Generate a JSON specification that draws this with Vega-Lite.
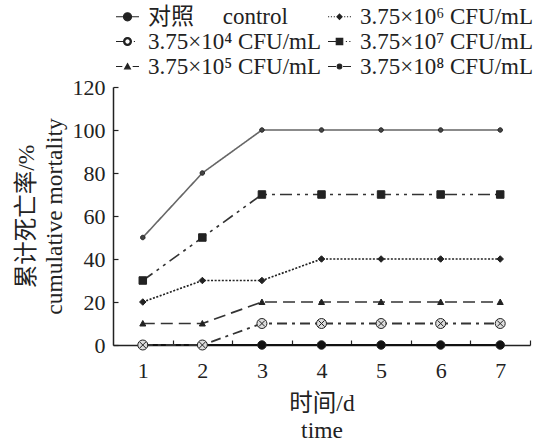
{
  "$schema": "https://vega.github.io/schema/vega-lite/v6.json",
  "width": 417,
  "height": 258,
  "autosize": "none",
  "padding": {"left": 113, "top": 87, "right": 9, "bottom": 100},
  "background": "white",
  "config": {
    "view": {"stroke": null},
    "font": "Liberation Serif, Noto Sans CJK SC",
    "axis": {
      "labelFont": "Liberation Serif, Noto Sans CJK SC",
      "titleFont": "Liberation Serif, Noto Sans CJK SC",
      "labelFontSize": 22,
      "titleFontSize": 23.5,
      "titleFontWeight": "normal",
      "labelColor": "#222",
      "titleColor": "#222",
      "domainColor": "#222",
      "tickColor": "#222",
      "domainWidth": 1.5,
      "tickWidth": 1.2,
      "grid": false
    },
    "legend": {
      "labelFont": "Liberation Serif, Noto Sans CJK SC",
      "labelFontSize": 23,
      "labelColor": "#222"
    }
  },
  "data": {
    "values": [
      {"series": "control", "day": 1, "mortality": 0},
      {"series": "control", "day": 2, "mortality": 0},
      {"series": "control", "day": 3, "mortality": 0},
      {"series": "control", "day": 4, "mortality": 0},
      {"series": "control", "day": 5, "mortality": 0},
      {"series": "control", "day": 6, "mortality": 0},
      {"series": "control", "day": 7, "mortality": 0},
      {"series": "e4", "day": 1, "mortality": 0},
      {"series": "e4", "day": 2, "mortality": 0},
      {"series": "e4", "day": 3, "mortality": 10},
      {"series": "e4", "day": 4, "mortality": 10},
      {"series": "e4", "day": 5, "mortality": 10},
      {"series": "e4", "day": 6, "mortality": 10},
      {"series": "e4", "day": 7, "mortality": 10},
      {"series": "e5", "day": 1, "mortality": 10},
      {"series": "e5", "day": 2, "mortality": 10},
      {"series": "e5", "day": 3, "mortality": 20},
      {"series": "e5", "day": 4, "mortality": 20},
      {"series": "e5", "day": 5, "mortality": 20},
      {"series": "e5", "day": 6, "mortality": 20},
      {"series": "e5", "day": 7, "mortality": 20},
      {"series": "e6", "day": 1, "mortality": 20},
      {"series": "e6", "day": 2, "mortality": 30},
      {"series": "e6", "day": 3, "mortality": 30},
      {"series": "e6", "day": 4, "mortality": 40},
      {"series": "e6", "day": 5, "mortality": 40},
      {"series": "e6", "day": 6, "mortality": 40},
      {"series": "e6", "day": 7, "mortality": 40},
      {"series": "e7", "day": 1, "mortality": 30},
      {"series": "e7", "day": 2, "mortality": 50},
      {"series": "e7", "day": 3, "mortality": 70},
      {"series": "e7", "day": 4, "mortality": 70},
      {"series": "e7", "day": 5, "mortality": 70},
      {"series": "e7", "day": 6, "mortality": 70},
      {"series": "e7", "day": 7, "mortality": 70},
      {"series": "e8", "day": 1, "mortality": 50},
      {"series": "e8", "day": 2, "mortality": 80},
      {"series": "e8", "day": 3, "mortality": 100},
      {"series": "e8", "day": 4, "mortality": 100},
      {"series": "e8", "day": 5, "mortality": 100},
      {"series": "e8", "day": 6, "mortality": 100},
      {"series": "e8", "day": 7, "mortality": 100}
    ]
  },
  "encoding": {
    "x": {
      "field": "day",
      "type": "quantitative",
      "scale": {"domain": [0.5, 7.5], "nice": false, "zero": false},
      "axis": {
        "values": [1, 1.5, 2, 2.5, 3, 3.5, 4, 4.5, 5, 5.5, 6, 6.5, 7, 7.5],
        "labelExpr": "datum.value % 1 === 0 ? '' + datum.value : ''",
        "tickOpacity": {"condition": {"test": "datum.value % 1 === 0", "value": 0}, "value": 1},
        "tickSize": -5,
        "labelPadding": 20,
        "labelFlush": false,
        "title": ["时间/d", "time"],
        "titleLineHeight": 27,
        "titlePadding": 10
      }
    },
    "y": {
      "field": "mortality",
      "type": "quantitative",
      "scale": {"domain": [0, 120], "nice": false},
      "axis": {
        "values": [0, 20, 40, 60, 80, 100, 120],
        "tickSize": -5,
        "labelPadding": 13,
        "labelFlush": false,
        "title": ["累计死亡率/%", "cumulative mortality"],
        "titleLineHeight": 28,
        "titlePadding": 6
      }
    }
  },
  "layer": [
    {
      "mark": {"type": "line"},
      "encoding": {
        "detail": {"field": "series"},
        "stroke": {
          "field": "series",
          "scale": {"domain": ["control", "e4", "e5", "e6", "e7", "e8"], "range": ["#111", "#333", "#333", "#222", "#333", "#666"]},
          "legend": null
        },
        "strokeWidth": {
          "field": "series",
          "type": "nominal",
          "scale": {"domain": ["control", "e4", "e5", "e6", "e7", "e8"], "range": [1.8, 1.6, 1.6, 2.2, 1.6, 1.6]},
          "legend": null
        },
        "strokeDash": {
          "field": "series",
          "scale": {"domain": ["control", "e4", "e5", "e6", "e7", "e8"], "range": [[1, 0], [10, 5, 3, 5], [12, 6], [2, 1.6], [12, 5, 3, 5, 3, 5], [1, 0]]},
          "legend": null
        }
      }
    },
    {
      "mark": {"type": "point", "filled": true, "size": 100, "stroke": "#222", "strokeWidth": 1, "opacity": 1},
      "encoding": {
        "shape": {
          "field": "series",
          "scale": {
            "domain": ["control", "e4", "e5", "e6", "e7", "e8"],
            "range": [
              "M0.85,0A0.85,0.85 0 1,1 -0.85,0A0.85,0.85 0 1,1 0.85,0Z",
              "M1,0A1,1 0 1,1 -1,0A1,1 0 1,1 1,0Z M-0.6,-0.6L0.6,0.6M-0.6,0.6L0.6,-0.6",
              "M0,-0.6L0.6,0.5L-0.6,0.5Z",
              "M0,-0.65L0.65,0L0,0.65L-0.65,0Z",
              "M-0.75,-0.75H0.75V0.75H-0.75Z",
              "M0.45,0A0.45,0.45 0 1,1 -0.45,0A0.45,0.45 0 1,1 0.45,0Z"
            ]
          },
          "legend": null
        },
        "fill": {
          "field": "series",
          "scale": {"domain": ["control", "e4", "e5", "e6", "e7", "e8"], "range": ["#111", "#ddd", "#222", "#222", "#222", "#444"]},
          "legend": null
        }
      }
    },
    {
      "mark": {"type": "point", "filled": true, "fill": "#222", "stroke": "#222", "strokeWidth": 1.2, "opacity": 0},
      "encoding": {
        "shape": {
          "field": "series",
          "scale": {
            "domain": ["control", "e4", "e5", "e6", "e7", "e8"],
            "range": [
              "M-1,0H1M0.35,0A0.35,0.35 0 1,1 -0.35,0A0.35,0.35 0 1,1 0.35,0Z",
              "M-1,0H-0.34M0.55,0H0.65M0.34,0A0.34,0.34 0 1,1 -0.34,0A0.34,0.34 0 1,1 0.34,0ZM0.24,0A0.24,0.24 0 1,0 -0.24,0A0.24,0.24 0 1,0 0.24,0Z",
              "M-1,0H-0.45M0.45,0H1M0,-0.25L0.25,0.2L-0.25,0.2Z",
              "M-1,0H-0.9M-0.75,0H-0.65M-0.5,0H-0.4M0.4,0H0.5M0.65,0H0.75M0.9,0H1M0,-0.22L0.22,0L0,0.22L-0.22,0Z",
              "M-1,0H-0.3M0.55,0H0.65M0.85,0H0.95M-0.28,-0.28H0.28V0.28H-0.28Z",
              "M-1,0H-0.3M0.3,0H1M0.2,0A0.2,0.2 0 1,1 -0.2,0A0.2,0.2 0 1,1 0.2,0Z"
            ]
          },
          "legend": {
            "orient": "none",
            "legendX": 2,
            "legendY": -83,
            "columns": 2,
            "title": null,
            "symbolSize": 529,
            "symbolOpacity": 1,
            "symbolStrokeWidth": 1.2,
            "labelOffset": 8,
            "rowPadding": 0,
            "columnPadding": 3,
            "labelLimit": 300,
            "labelExpr": "{'control': '对照\u00a0\u00a0\u00a0\u00a0 control', 'e4': '3.75×10⁴ CFU/mL', 'e5': '3.75×10⁵ CFU/mL', 'e6': '3.75×10⁶ CFU/mL', 'e7': '3.75×10⁷ CFU/mL', 'e8': '3.75×10⁸ CFU/mL'}[datum.value]"
          }
        }
      }
    }
  ],
  "resolve": {"scale": {"shape": "independent"}}
}
